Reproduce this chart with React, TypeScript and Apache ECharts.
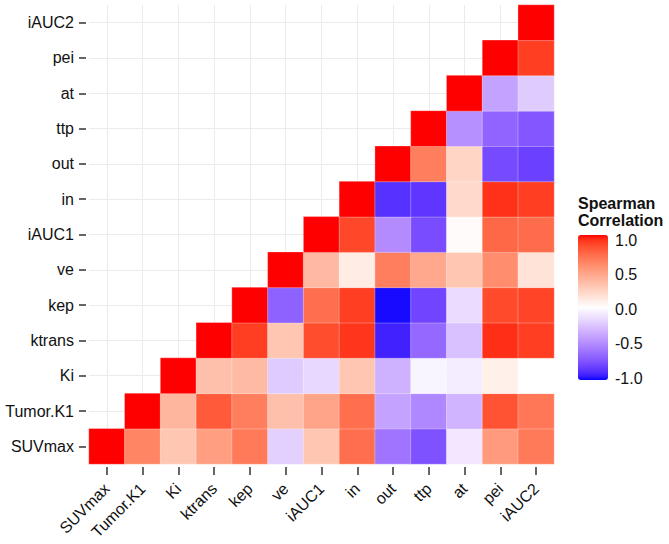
import React, { useEffect, useRef } from "react";
import * as echarts from "echarts";

const variables = ["SUVmax", "Tumor.K1", "Ki", "ktrans", "kep", "ve", "iAUC1", "in", "out", "ttp", "at", "pei", "iAUC2"];

// Each row: correlations of the row variable with itself and every later column
const corSUVmax = [1.0, 0.62, 0.3, 0.5, 0.67, -0.2, 0.3, 0.72, -0.6, -0.75, -0.1, 0.52, 0.67];
const corTumorK1 = [1.0, 0.38, 0.8, 0.65, 0.33, 0.47, 0.72, -0.4, -0.52, -0.32, 0.83, 0.68];
const corKi = [1.0, 0.33, 0.36, -0.22, -0.17, 0.3, -0.33, -0.04, -0.08, 0.08, 0.0];
const corKtrans = [1.0, 0.9, 0.3, 0.85, 0.92, -0.93, -0.65, -0.27, 0.94, 0.9];
const corKep = [1.0, -0.68, 0.72, 0.9, -0.98, -0.8, -0.15, 0.86, 0.88];
const corVe = [1.0, 0.37, 0.1, 0.65, 0.45, 0.3, 0.58, 0.15];
const corIAUC1 = [1.0, 0.87, -0.5, -0.77, 0.02, 0.75, 0.73];
const corIn = [1.0, -0.88, -0.86, 0.2, 0.93, 0.9];
const corOut = [1.0, 0.65, 0.22, -0.78, -0.82];
const corTtp = [1.0, -0.48, -0.67, -0.73];
const corAt = [1.0, -0.4, -0.22];
const corPei = [1.0, 0.9];
const corIAUC2 = [1.0];

const rows = [corSUVmax, corTumorK1, corKi, corKtrans, corKep, corVe, corIAUC1, corIn, corOut, corTtp, corAt, corPei, corIAUC2];

const legendTicks = [-1, -0.5, 0, 0.5, 1];

// Lab interpolation (as ggplot's gradient2)
type Lab = [number, number, number];
const LAB_WHITE: Lab = [100, 0, 0];
const LAB_RED: Lab = [53.24, 80.09, 67.2];
const LAB_BLUE: Lab = [32.3, 79.19, -107.86];
function labToHex(L: number, a: number, b: number): string {
  const fy = (L + 16) / 116;
  const fx = fy + a / 500;
  const fz = fy - b / 200;
  const inv = (t: number) => (t * t * t > 0.008856 ? t * t * t : (t - 16 / 116) / 7.787);
  const X = 0.95047 * inv(fx);
  const Y = inv(fy);
  const Z = 1.08883 * inv(fz);
  const lin = [
    3.2406 * X - 1.5372 * Y - 0.4986 * Z,
    -0.9689 * X + 1.8758 * Y + 0.0415 * Z,
    0.0557 * X - 0.204 * Y + 1.057 * Z,
  ];
  const out = lin.map((c) => {
    const cc = Math.min(1, Math.max(0, c));
    const g = cc <= 0.0031308 ? 12.92 * cc : 1.055 * Math.pow(cc, 1 / 2.4) - 0.055;
    const v = Math.round(Math.min(1, Math.max(0, g)) * 255);
    return v.toString(16).padStart(2, "0");
  });
  return "#" + out.join("");
}
function buildStops(): string[] {
  const stops: string[] = [];
  for (let i = -20; i <= 20; i++) {
    const v = i / 20;
    const t = Math.abs(v);
    const end = v < 0 ? LAB_BLUE : LAB_RED;
    stops.push(
      labToHex(
        LAB_WHITE[0] + (end[0] - LAB_WHITE[0]) * t,
        LAB_WHITE[1] + (end[1] - LAB_WHITE[1]) * t,
        LAB_WHITE[2] + (end[2] - LAB_WHITE[2]) * t
      )
    );
  }
  return stops;
}

export default function App() {
  const ref = useRef<HTMLDivElement>(null);
  useEffect(() => {
    if (!ref.current) return;
    const chart = echarts.init(ref.current, null, { renderer: "svg" });
    const data: [number, number, number][] = [];
    rows.forEach((row, y) => {
      row.forEach((v, k) => {
        data.push([y + k, y, v]);
      });
    });
    const font = "'Liberation Sans', Arial, sans-serif";
    chart.setOption({
      animation: false,
      backgroundColor: "#ffffff",
      title: {
        text: "Spearman\nCorrelation",
        left: 578,
        top: 195,
        padding: 0,
        textStyle: { fontFamily: font, fontSize: 16, fontWeight: "bold", color: "#111", lineHeight: 17 },
      },
      grid: [
        { left: 89, top: 5, width: 465, height: 459, containLabel: false },
        { left: 578, top: 240, width: 30, height: 138, containLabel: false },
      ],
      xAxis: [
        {
          type: "category",
          gridIndex: 0,
          data: variables,
          offset: 3,
          axisLine: { show: false },
          axisTick: { show: true, alignWithLabel: true, length: 8, lineStyle: { color: "#333", width: 1.5 } },
          axisLabel: { rotate: 45, margin: 19, fontFamily: font, fontSize: 16, color: "#111", interval: 0 },
          splitLine: { show: true, alignWithLabel: true, lineStyle: { color: "#ebebeb", width: 1 } },
        },
        { type: "value", gridIndex: 1, show: false, min: 0, max: 1 },
      ],
      yAxis: [
        {
          type: "category",
          gridIndex: 0,
          data: variables,
          offset: 3,
          axisLine: { show: false },
          axisTick: { show: true, alignWithLabel: true, length: 7, lineStyle: { color: "#333", width: 1.5 } },
          axisLabel: { margin: 12, fontFamily: font, fontSize: 16, color: "#111", interval: 0 },
          splitLine: { show: true, alignWithLabel: true, lineStyle: { color: "#ebebeb", width: 1 } },
        },
        {
          type: "value",
          gridIndex: 1,
          min: -1,
          max: 1,
          interval: 0.5,
          position: "right",
          axisLine: { show: false },
          axisTick: { show: true, inside: true, length: 6, lineStyle: { color: "rgba(255,255,255,0.6)", width: 1 } },
          splitLine: { show: false },
          axisLabel: {
            margin: 7,
            fontFamily: font,
            fontSize: 16,
            color: "#111",
            formatter: (v: number) => (legendTicks.includes(v) ? v.toFixed(1) : ""),
          },
        },
      ],
      visualMap: {
        type: "continuous",
        seriesIndex: 0,
        min: -1,
        max: 1,
        calculable: false,
        orient: "vertical",
        left: 578,
        top: 235,
        itemWidth: 30,
        itemHeight: 145,
        padding: 0,
        text: null,
        showLabel: false,
        inRange: { color: buildStops() },
      },
      series: [
        {
          type: "heatmap",
          xAxisIndex: 0,
          yAxisIndex: 0,
          data,
          itemStyle: { borderColor: "rgba(255,255,255,0.5)", borderWidth: 0.6 },
          emphasis: { disabled: true },
        },
      ],
    });
    return () => chart.dispose();
  }, []);
  return <div ref={ref} style={{ position: "fixed", left: 0, top: 0, width: 669, height: 544 }} />;
}
